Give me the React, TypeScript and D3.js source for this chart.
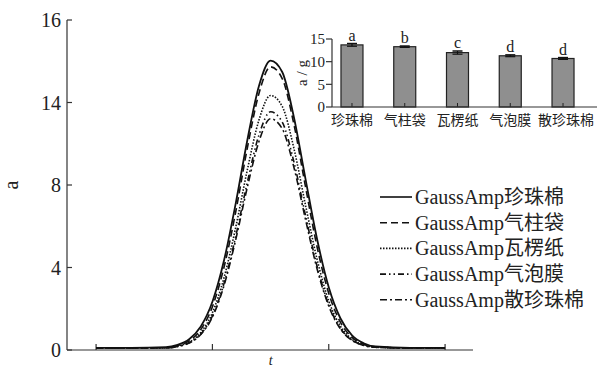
import React from "react";
import * as d3 from "d3";

// main chart: GaussAmp fitted curves
const tValues = [0, 0.3, 0.6, 0.7, 0.8, 0.9, 1.0, 1.1, 1.2, 1.3, 1.4, 1.5, 1.6, 1.7, 1.8, 1.9, 2.0, 2.1, 2.2, 2.3, 2.4, 2.7, 3.0];
const pearlCotton = [0.1, 0.1, 0.14, 0.25, 0.52, 1.14, 2.34, 4.35, 7.1, 10.17, 12.8, 14.03, 13.48, 11.3, 8.3, 5.37, 3.04, 1.54, 0.71, 0.33, 0.17, 0.1, 0.1];
const airColumn = [0.1, 0.1, 0.11, 0.21, 0.44, 0.99, 2.1, 4.02, 6.69, 9.79, 12.44, 13.73, 13.16, 10.96, 7.92, 4.99, 2.75, 1.35, 0.61, 0.28, 0.15, 0.1, 0.1];
const corrugated = [0.1, 0.1, 0.11, 0.19, 0.38, 0.85, 1.81, 3.51, 5.94, 8.73, 11.15, 12.34, 11.81, 9.79, 7.03, 4.39, 2.38, 1.16, 0.52, 0.25, 0.14, 0.1, 0.1];
const bubbleFilm = [0.1, 0.1, 0.1, 0.17, 0.35, 0.77, 1.65, 3.23, 5.5, 8.13, 10.42, 11.55, 11.05, 9.13, 6.53, 4.05, 2.19, 1.05, 0.48, 0.23, 0.13, 0.1, 0.1];
const loosePearl = [0.1, 0.1, 0.1, 0.17, 0.34, 0.75, 1.6, 3.13, 5.34, 7.89, 10.11, 11.21, 10.73, 8.87, 6.34, 3.93, 2.13, 1.02, 0.47, 0.22, 0.13, 0.1, 0.1];

const seriesNames = ["GaussAmp珍珠棉", "GaussAmp气柱袋", "GaussAmp瓦楞纸", "GaussAmp气泡膜", "GaussAmp散珍珠棉"];
const seriesValues = [pearlCotton, airColumn, corrugated, bubbleFilm, loosePearl];
const dashes = ["none", "7,4", "1.5,1.5", "6,3,1.5,3,1.5,3", "7,3,2,3"];

const yTickValues = [0, 4, 8, 12, 16];
const yTickLabels = ["0", "4", "8", "14", "16"]; // as printed in the figure
const xTickValues = [0, 1, 2, 3];

// inset bar chart
const materials = ["珍珠棉", "气柱袋", "瓦楞纸", "气泡膜", "散珍珠棉"];
const weights = [13.7, 13.3, 12.0, 11.3, 10.7];
const weightErr = [0.3, 0.15, 0.35, 0.2, 0.2];
const sigLetters = ["a", "b", "c", "d", "d"];
const insetTicks = [0, 5, 10, 15];

const serif = "'Liberation Serif', 'Noto Sans CJK SC', serif";

export default function App() {
  const x = d3.scaleLinear().domain([-0.25, 3.24]).range([67, 473]);
  const y = d3.scaleLinear().domain([0, 16]).range([350, 20]);

  const line = d3
    .line<number>()
    .x((_, i) => x(tValues[i]))
    .y((d) => y(d))
    .curve(d3.curveMonotoneX);

  const bx = d3.scalePoint<string>().domain(materials).range([325.6, 589.4]).padding(0.5);
  const by = d3.scaleLinear().domain([0, 15]).range([107, 39]);
  const barW = 22;

  return (
    <svg width={600} height={367} style={{ position: "absolute", left: 0, top: 0, background: "#fff" }} fontFamily={serif}>
      {/* main axes */}
      <line x1={67} x2={67} y1={y(16)} y2={y(0)} stroke="#333" strokeWidth={1.2} />
      <line x1={67} x2={473} y1={y(0)} y2={y(0)} stroke="#333" strokeWidth={1.2} />
      {yTickValues.map((v, i) => (
        <g key={v}>
          <line x1={67} x2={72} y1={y(v)} y2={y(v)} stroke="#333" strokeWidth={1.2} />
          <text x={61} y={y(v)} dy="0.35em" textAnchor="end" fontSize={20} fill="#222">
            {yTickLabels[i]}
          </text>
        </g>
      ))}
      {xTickValues.map((v) => (
        <line key={v} x1={x(v)} x2={x(v)} y1={y(0)} y2={y(0) - 6} stroke="#333" strokeWidth={1.2} />
      ))}
      <text transform={`translate(18,${y(8)}) rotate(-90)`} textAnchor="middle" fontSize={20} fill="#222">
        a
      </text>
      <text x={x(1.5)} y={365} textAnchor="middle" fontSize={14} fontStyle="italic" fill="#222">
        t
      </text>

      {/* curves */}
      {seriesValues.map((s, i) => (
        <path
          key={seriesNames[i]}
          d={line(s) || ""}
          fill="none"
          stroke="#111"
          strokeWidth={i === 0 ? 1.8 : 1.6}
          strokeDasharray={dashes[i]}
        />
      ))}

      {/* legend */}
      {seriesNames.map((name, i) => {
        const ly = 197 + i * 25.7;
        return (
          <g key={name}>
            <line x1={380} x2={412} y1={ly} y2={ly} stroke="#111" strokeWidth={1.6} strokeDasharray={dashes[i]} />
            <text x={415} y={ly} dy="0.35em" fontSize={20} fill="#222">
              {name}
            </text>
          </g>
        );
      })}

      {/* inset bar chart */}
      <g>
        {materials.map((m, i) => {
          const cx = bx(m) as number;
          const top = by(weights[i]);
          return (
            <g key={m}>
              <rect x={cx - barW / 2} y={top} width={barW} height={by(0) - top} fill="#8f8f8f" stroke="#222" strokeWidth={1.2} />
              <line x1={cx} x2={cx} y1={by(weights[i] - weightErr[i])} y2={by(weights[i] + weightErr[i])} stroke="#111" strokeWidth={1.2} />
              <line x1={cx - 5} x2={cx + 5} y1={by(weights[i] + weightErr[i])} y2={by(weights[i] + weightErr[i])} stroke="#111" strokeWidth={1.5} />
              <line x1={cx - 5} x2={cx + 5} y1={by(weights[i] - weightErr[i])} y2={by(weights[i] - weightErr[i])} stroke="#111" strokeWidth={1.2} />
              <line x1={cx} x2={cx} y1={by(0)} y2={by(0) - 4} stroke="#222" strokeWidth={1} />
              <text x={cx} y={by(weights[i] + weightErr[i]) - 3} textAnchor="middle" fontSize={16} fill="#222">
                {sigLetters[i]}
              </text>
              <text x={i === 4 ? cx + 3 : cx} y={by(0) + 18} textAnchor="middle" fontSize={14} fill="#222">
                {m}
              </text>
            </g>
          );
        })}
        <line x1={332} x2={332} y1={by(15)} y2={by(0)} stroke="#333" strokeWidth={1.2} />
        <line x1={332} x2={597} y1={by(0)} y2={by(0)} stroke="#333" strokeWidth={1.2} />
        {insetTicks.map((v) => (
          <g key={v}>
            <line x1={326} x2={332} y1={by(v)} y2={by(v)} stroke="#333" strokeWidth={1.2} />
            <text x={325} y={by(v)} dy="0.35em" textAnchor="end" fontSize={15} fill="#222">
              {v}
            </text>
          </g>
        ))}
        <text transform={`translate(307,${by(7.5)}) rotate(-90)`} textAnchor="middle" fontSize={15} fill="#222">
          a / g
        </text>
      </g>
    </svg>
  );
}
